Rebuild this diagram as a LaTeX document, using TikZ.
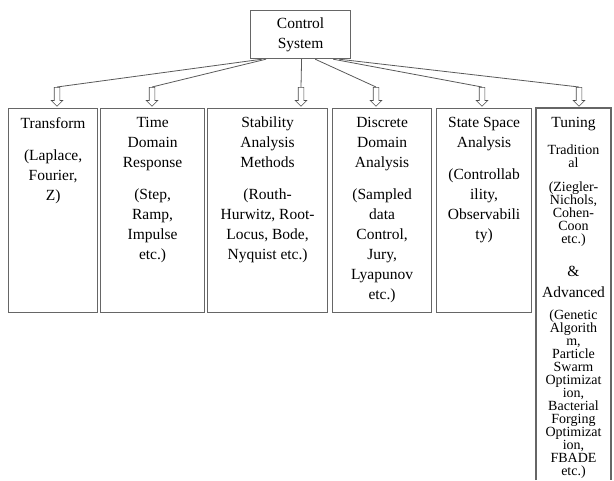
\documentclass[tikz,border=0pt]{standalone}
\usepackage{fontspec}
\setmainfont{Liberation Serif}
\usetikzlibrary{positioning,shapes.arrows}

\newcommand{\tightlines}{\fontsize{14}{13}\selectfont\lineskiplimit=-20pt\relax}
\newcommand{\bigword}[1]{{\fontsize{15.5}{13}\selectfont #1}}

\begin{document}
\begin{tikzpicture}[x=1pt, y=-1pt,
        catbox/.style={draw=black!60, line width=1.2pt, inner sep=0pt, minimum height=204pt, anchor=north west},
        hollow/.style={single arrow, draw=black!70, fill=white, line width=0.6pt, shape border rotate=270,
            inner sep=2.5pt, single arrow head extend=3pt, minimum height=19pt},
        link/.style={draw=black!65, line width=0.8pt},
        txt/.style={align=center, inner sep=0pt, font=\fontsize{15.5}{20}\selectfont}]

    \useasboundingbox (0,0) rectangle (614,480);

    % Draw top box
    \node[draw=black!60, line width=1.2pt, minimum width=100pt, minimum height=48pt, txt, anchor=north west] (ctrl) at (250,10) {Control\\System};

    % Draw the category boxes
    \foreach \x/\w/\name in {8/89/tf, 100/104/td, 207/120/sa, 332/99/dd, 436/95/ss} {
        \node[catbox, minimum width=\w pt] (\name) at (\x,108) {};
    }
    % Tuning box runs off the bottom
    \draw[draw=black!60, line width=1.2pt] (536,480) |- (611,108) -- (611,480);
    \coordinate (tu) at (573.5,108);

    % Draw hollow arrows
    \foreach \x/\name in {57/a1, 152/a2, 301/a3, 376/a4, 482/a5, 579/a6} {
        \node[hollow, anchor=tail] (\name) at (\x,87) {};
    }

    % Start points on the top box
    \coordinate (o1) at ([xshift=12pt]ctrl.south west);
    \coordinate (o2) at ([xshift=16pt]ctrl.south west);
    \coordinate (o3) at ([xshift=1pt]ctrl.south);
    \coordinate (o4) at ([xshift=-36pt]ctrl.south east);
    \coordinate (o5) at ([xshift=-18pt]ctrl.south east);
    \coordinate (o6) at ([xshift=-12pt]ctrl.south east);

    % Connectors
    \foreach \s/\name in {o1/a1, o2/a2, o3/a3, o4/a4, o5/a5, o6/a6} {
        \draw[link] (\s) -- (\name.tail);
    }

    % Box texts
    \node[txt, below=9pt of tf.north] (tftext) {Transform\\[12pt](Laplace,\\Fourier,\\Z)};
    \node[txt, below=9pt of td.north] (tdtext) {Time\\Domain\\Response\\[12pt](Step,\\Ramp,\\Impulse\\etc.)};
    \node[txt, below=9pt of sa.north] (satext) {Stability\\Analysis\\Methods\\[12pt](Routh-\\Hurwitz, Root-\\Locus, Bode,\\Nyquist etc.)};
    \node[txt, below=9pt of dd.north] (ddtext) {Discrete\\Domain\\Analysis\\[12pt](Sampled\\data\\Control,\\Jury,\\Lyapunov\\etc.)};
    \node[txt, below=9pt of ss.north] (sstext) {State Space\\Analysis\\[12pt](Controllab\\ility,\\Observabili\\ty)};
    \node[txt, below=9pt of tu, font=\tightlines] (tutext)
        {\bigword{Tuning}\\[14pt]Tradition\\al\\[11pt](Ziegler-\\Nichols,\\Cohen-\\Coon\\etc.)\\[20pt]\bigword{\&}\\[8pt]\bigword{Advanced}\\[9pt](Genetic\\Algorith\\m,\\Particle\\Swarm\\Optimizat\\ion,\\Bacterial\\Forging\\Optimizat\\ion,\\FBADE\\etc.)};
\end{tikzpicture}
\end{document}
